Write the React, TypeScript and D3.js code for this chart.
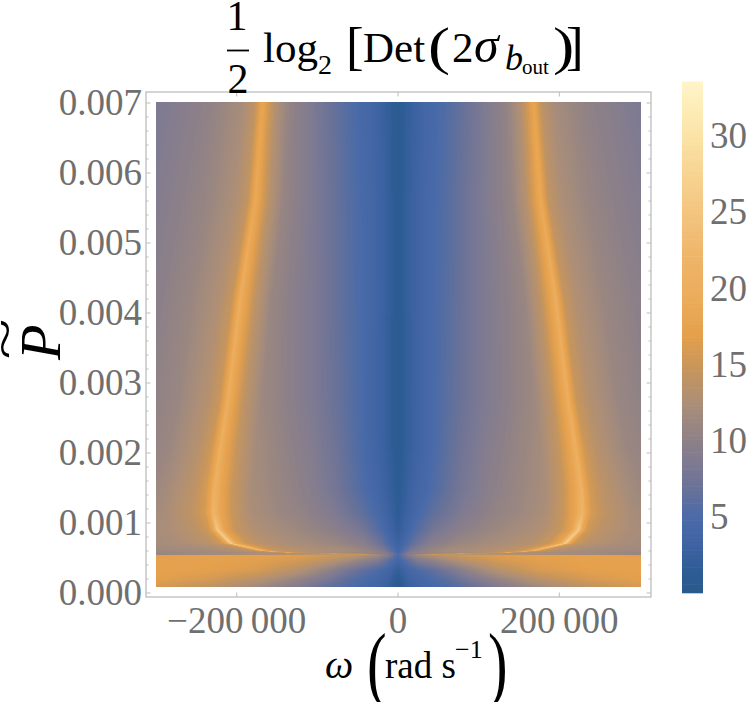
import React, { useMemo } from "react";
import * as d3 from "d3";

const W = 748, H = 702;
const xTicks = [-200000, 0, 200000];
const xLabels = ["\u2212200\u2009000", "0", "200\u2009000"];
const yTicks = [0, 0.001, 0.002, 0.003, 0.004, 0.005, 0.006, 0.007];
const yMinor = d3.range(0, 36).map((i) => i * 0.0002);
const barTicks = [5, 10, 15, 20, 25, 30];

const colorValues = [0.07, 1.5, 3, 5, 7, 9, 10, 12.5, 15, 17, 20, 22, 25, 28, 31, 33.4];
const colorStops = ["#2a5a8c", "#2d5c94", "#3d62a2", "#4a6aa8", "#6a7298", "#827c90", "#8c8088", "#ab8e78", "#c9965a", "#e5a04c", "#ecae5e", "#eeb468", "#f3c47e", "#f8d694", "#fce8ae", "#fff3c6"];

// Knots along omega, relative to the ridge
const innerFractions = [0, 0.1, 0.2, 0.35, 0.5, 0.65, 0.8, 0.9, 0.96, 1];
const outerOffsets = [0, 4000, 10000, 25000, 62000];
// P, ridge omega, ten values from the centre to the ridge, four beyond the ridge, value at the edge
const upperRows = [
  [0.00056, 43000, 5, 6.5, 8, 9.5, 11, 12, 13, 13.8, 14.5, 15.5, 15, 14.8, 14.5, 13.5, 11],
  [0.00057, 125000, 4.5, 9, 10.5, 11, 11.5, 12, 13, 14, 15, 18, 15, 14, 13, 12, 11],
  [0.0006, 167000, 4, 8.5, 10.5, 12, 12.5, 13, 13.8, 15, 17, 22, 17, 14.5, 13, 12, 11.5],
  [0.00071, 208000, 3, 7, 9.5, 11, 11.8, 12.5, 13.5, 15, 18, 27, 19, 15.5, 13.8, 12.5, 12],
  [0.0009, 224000, 2, 5.5, 8, 9.8, 11, 12, 13, 14.8, 17.5, 26, 19, 15.5, 14, 12.5, 12.2],
  [0.00114, 229000, 1.5, 4.5, 6.5, 8.8, 10.3, 11.3, 12.6, 15, 18, 22, 18.5, 16, 14.3, 12.2, 12],
  [0.00147, 228000, 1.2, 3.8, 5.5, 8, 9.8, 11, 12.3, 14.8, 17.8, 21, 18, 15.8, 14, 11.8, 11.4],
  [0.00204, 221000, 1, 3.2, 5, 7.4, 9.3, 10.6, 12, 14.5, 17.3, 20.3, 17.8, 15.5, 13.6, 11.3, 10.8],
  [0.00276, 211000, 1, 3, 4.8, 6.8, 8.6, 10, 11.4, 14, 17, 20, 17.5, 15, 13.3, 11.1, 10.3],
  [0.00419, 196000, 1, 3, 4.6, 6.3, 8.2, 9.6, 11, 14, 17.2, 20, 17.3, 14.8, 13, 11, 9.8],
  [0.00561, 177000, 1, 2.8, 4.3, 5.8, 7.6, 9.2, 10.8, 13.5, 16.5, 19, 16.8, 14.3, 12.7, 10.8, 9.1],
  [0.00702, 168000, 1, 2.5, 4, 5.4, 7, 8.8, 10.5, 13, 15.8, 18, 16.3, 14, 12.2, 10.4, 8.5],
];

const lowerOmegas = [0, 12400, 24800, 43400, 62000, 86800, 124000, 173600, 235600, 300000];
const lowerRows = [
  [0.00009, 0.8, 2.5, 3.5, 4.5, 5.2, 6.5, 9, 11.5, 14.2, 15.8],
  [0.00019, 1, 3, 4, 5, 6, 8, 10.5, 13.5, 15.8, 16.8],
  [0.00033, 2, 4, 5.2, 6.5, 8, 10.5, 13.5, 16, 17, 17.3],
  [0.00047, 4, 6.5, 9, 10.5, 12.2, 14, 15.8, 16.8, 17.2, 17.2],
  [0.00054, 5, 9, 11.5, 13, 14.5, 15.5, 16.5, 17, 17.2, 16.8],
];

const xScale = d3.scaleLinear().domain([-300000, 300000]).range([156, 640]);
const yScale = d3.scaleLinear().domain([0, 0.007]).range([593, 103]);
const barScale = d3.scaleLinear().domain([0.07, 33.4]).range([592.7, 85.7]);
const colorScale = d3.scaleLinear<string>().domain(colorValues).range(colorStops).interpolate(d3.interpolateRgb);

function blend(rows: number[][], p: number): number[] {
  const keys = rows.map((r) => r[0]);
  const i = Math.min(Math.max(d3.bisectRight(keys, p), 1), rows.length - 1);
  const a = rows[i - 1], b = rows[i];
  const t = Math.min(1, Math.max(0, (p - a[0]) / (b[0] - a[0])));
  return a.map((v, k) => v + (b[k] - v) * t);
}

function buildCells() {
  const groups = new Map<number, string[]>();
  const add = (q: number, x0: number, y: number, w: number) => {
    if (!groups.has(q)) groups.set(q, []);
    groups.get(q)!.push(`M${x0} ${y}h${w}v1h${-w}z`);
  };
  const yTop = 102, yBottom = 587, xLeft = 156, xRight = 641;
  for (let y = yTop; y < yBottom; y++) {
    const p = yScale.invert(y + 0.5);
    let valueAt: (w: number) => number;
    if (p >= 0.00055) {
      const row = blend(upperRows, p);
      const r = row[1];
      const inner = d3.scaleLinear().domain(innerFractions.map((f) => f * r)).range(row.slice(2, 12));
      const outer = d3.scaleLinear().domain([...outerOffsets.map((o) => o + r), Math.max(300000, r + 62001)]).range([row[11], ...row.slice(12, 17)]);
      valueAt = (w) => (w <= r ? inner(w) : outer(w));
    } else {
      const row = blend(lowerRows, p);
      const s = d3.scaleLinear().domain(lowerOmegas).range(row.slice(1));
      valueAt = (w) => s(w);
    }
    let runStart = xLeft, runQ = -1;
    for (let x = xLeft; x <= xRight; x++) {
      const q = x < xRight ? Math.round(valueAt(Math.abs(xScale.invert(x + 0.5))) * 8) : -2;
      if (q !== runQ) {
        if (runQ >= 0) add(runQ, runStart, y, x - runStart);
        runStart = x;
        runQ = q;
      }
    }
  }
  return Array.from(groups.entries()).map(([q, parts]) => ({ fill: colorScale(q / 8), d: parts.join("") }));
}

const gray = "#6f6f6f";
const frame = "#bdbdbd";
const serif = "'Liberation Serif', 'Times New Roman', serif";

export default function App() {
  const cells = useMemo(buildCells, []);
  const bands = useMemo(() => d3.range(0.07, 33.4, 0.28), []);
  return (
    <svg width={W} height={H} viewBox={`0 0 ${W} ${H}`} style={{ position: "absolute", left: 0, top: 0, background: "#fff" }} fontFamily={serif}>
      <g>
        {cells.map((c, i) => (
          <path key={i} d={c.d} fill={c.fill} shapeRendering="crispEdges" />
        ))}
      </g>
      <rect x={146} y={92} width={505} height={505} fill="none" stroke={frame} strokeWidth={1.3} />
      <g stroke={frame} strokeWidth={1}>
        {xTicks.map((t) => (
          <g key={t}>
            <line x1={xScale(t)} x2={xScale(t)} y1={597} y2={592.5} />
            <line x1={xScale(t)} x2={xScale(t)} y1={92} y2={96.5} />
          </g>
        ))}
        {yMinor.map((t, i) => {
          const len = i % 5 === 0 ? 4.5 : 2.5;
          return (
            <g key={i}>
              <line x1={146} x2={146 + len} y1={yScale(t)} y2={yScale(t)} />
              <line x1={651} x2={651 - len} y1={yScale(t)} y2={yScale(t)} />
            </g>
          );
        })}
      </g>
      <g fill={gray} fontSize={37}>
        {yTicks.map((t) => (
          <text key={t} x={142} y={yScale(t) + 11.5} textAnchor="end">{t.toFixed(3)}</text>
        ))}
        {xTicks.map((t, i) => (
          <text key={t} x={xScale(t)} y={633} textAnchor="middle">{xLabels[i]}</text>
        ))}
        {barTicks.map((t) => (
          <text key={t} x={710} y={barScale(t) + 11} textAnchor="start">{t}</text>
        ))}
      </g>
      <g>
        {bands.map((v) => (
          <rect key={v} x={682} width={21} y={barScale(v + 0.28)} height={barScale(v) - barScale(v + 0.28) + 0.6} fill={colorScale(v + 0.14)} />
        ))}
      </g>

      {/* Title */}
      <g fill="#000">
        <text x={237} y={30} fontSize={42} textAnchor="middle">1</text>
        <line x1={227} x2={249} y1={50.5} y2={50.5} stroke="#000" strokeWidth={1.8} />
        <text x={238} y={93} fontSize={42} textAnchor="middle">2</text>
        <text x={263} y={62} fontSize={43}>log</text>
        <text x={318} y={74} fontSize={28}>2</text>
        <text x={346} y={64} fontSize={53}>[</text>
        <text x={363} y={62} fontSize={43}>Det</text>
        <text transform="translate(428,64) scale(1.25,1)" fontSize={53}>(</text>
        <text x={452} y={62} fontSize={43}>2</text>
        <text x={474} y={62} fontSize={50} fontStyle="italic">σ</text>
        <text x={505} y={70} fontSize={36} fontStyle="italic">b</text>
        <text x={522} y={74} fontSize={21}>out</text>
        <text transform="translate(553,64) scale(1.2,1)" fontSize={53}>)</text>
        <text x={566} y={64} fontSize={53}>]</text>
      </g>

      {/* X axis label */}
      <g fill="#000">
        <text x={325} y={678} fontSize={40} fontStyle="italic">ω</text>
        <text transform="translate(367,692) scale(0.7,1)" fontSize={84}>(</text>
        <text x={385} y={678} fontSize={37}>rad s</text>
        <text x={455} y={658} fontSize={26}>−1</text>
        <text transform="translate(488,692) scale(0.7,1)" fontSize={84}>)</text>
      </g>

      {/* Y axis label */}
      <g fill="#000">
        <text transform="translate(60,360) rotate(-90)" fontSize={58} fontStyle="italic">P</text>
        <text transform="translate(21,339) rotate(-90) scale(1.4,0.9)" fontSize={54} textAnchor="middle">~</text>
      </g>
    </svg>
  );
}
